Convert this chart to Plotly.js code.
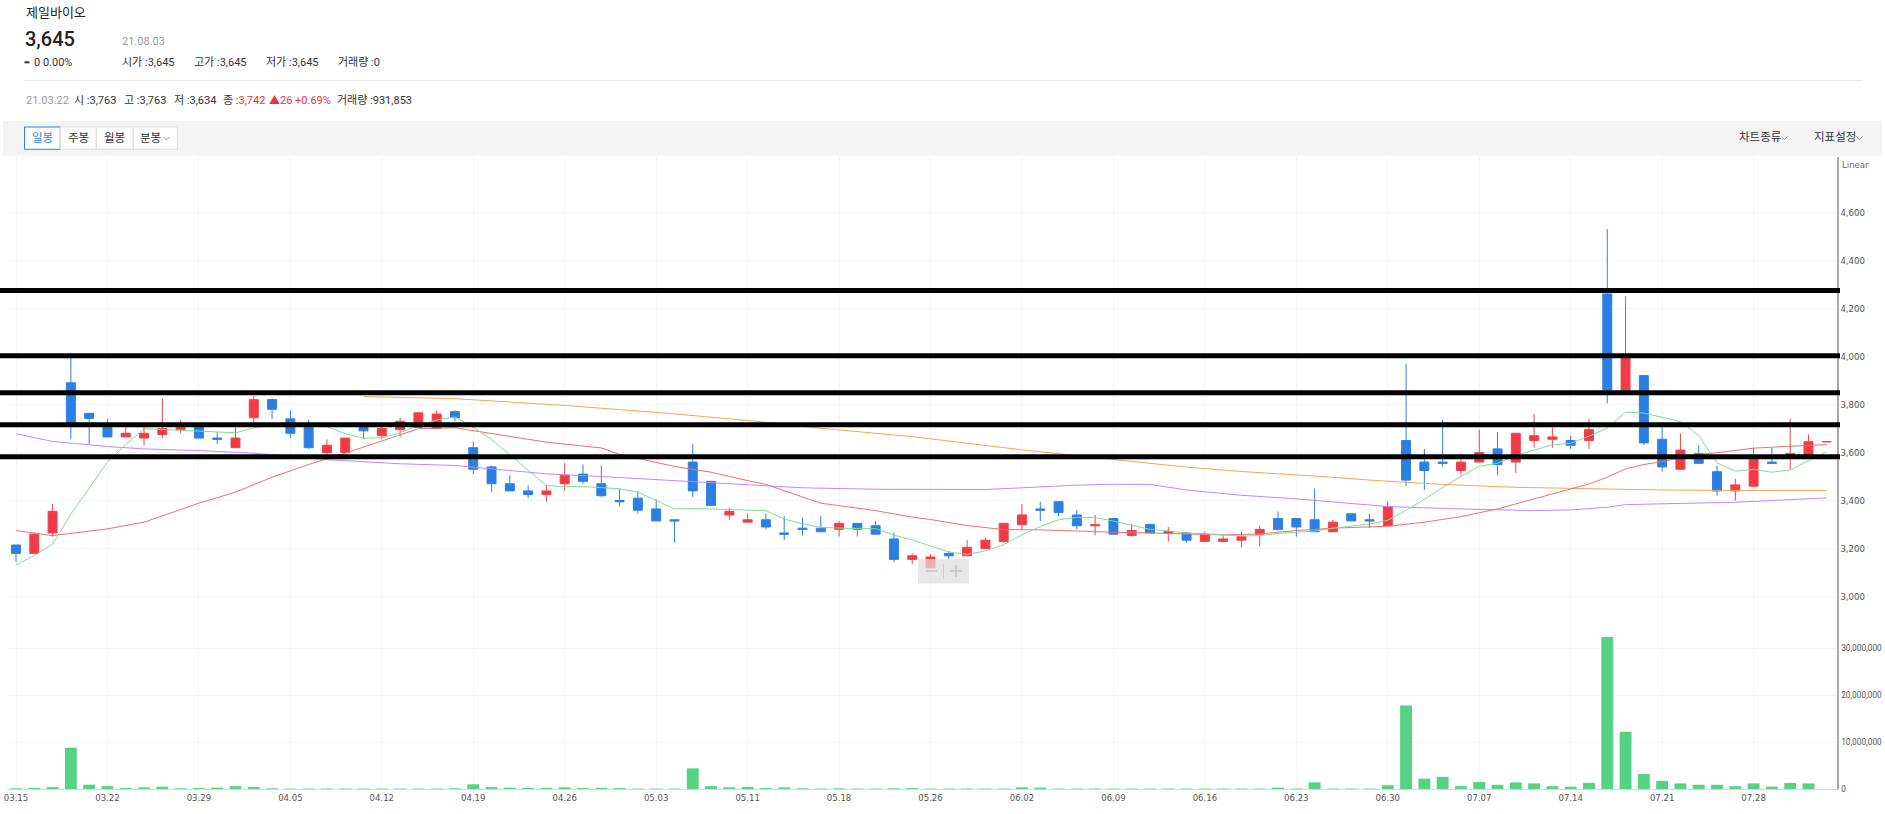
<!DOCTYPE html>
<html><head><meta charset="utf-8">
<script src="https://cdn.plot.ly/plotly-3.0.1.min.js"></script>
<style>html,body{margin:0;padding:0;background:#fff;overflow:hidden}#chart{width:1885px;height:814px}</style>
</head><body><div id="chart"></div>
<script>
// ---------- data ----------
const dates = ['03.15','03.16','03.17','03.18','03.19','03.22','03.23','03.24','03.25','03.26','03.29','03.30','03.31',
'04.01','04.02','04.05','04.06','04.07','04.08','04.09','04.12','04.13','04.14','04.15','04.16','04.19','04.20','04.21','04.22','04.23','04.26','04.27','04.28','04.29','04.30',
'05.03','05.04','05.06','05.07','05.10','05.11','05.12','05.13','05.14','05.17','05.18','05.20','05.21','05.24','05.25','05.26','05.27','05.28','05.31',
'06.01','06.02','06.03','06.04','06.07','06.08','06.09','06.10','06.11','06.14','06.15','06.16','06.17','06.18','06.21','06.22','06.23','06.24','06.25','06.28','06.29','06.30',
'07.01','07.02','07.05','07.06','07.07','07.08','07.09','07.12','07.13','07.14','07.15','07.16','07.19','07.20','07.21','07.22','07.23','07.26','07.27','07.28','07.29','07.30',
'08.02','08.03'];
const tickLabels = ['03.15','03.22','03.29','04.05','04.12','04.19','04.26','05.03','05.11','05.18','05.26','06.02','06.09','06.16','06.23','06.30','07.07','07.14','07.21','07.28'];

const open  = [3215,3180,3265,3890,3763,3705,3665,3660,3675,3695,3720,3660,3620,3745,3820,3740,3705,3600,3600,3720,3670,3695,3705,3700,3770,
               3620,3540,3470,3440,3425,3470,3510,3470,3400,3410,3365,3320,3560,3480,3340,3310,3320,3265,3285,3285,3280,3305,3295,3240,3155,
               3120,3180,3170,3200,3230,3300,3365,3395,3340,3295,3325,3255,3300,3265,3265,3230,3230,3235,3260,3325,3325,3320,3270,3345,3320,
               3295,3650,3560,3560,3525,3560,3615,3560,3650,3655,3650,3650,4260,3860,3920,3655,3530,3595,3520,3440,3460,3560,3590,3590,3645];
const high  = [3215,3265,3385,4015,3763,3740,3705,3705,3825,3735,3720,3685,3705,3835,3825,3775,3735,3655,3660,3720,3715,3745,3765,3775,3775,
               3645,3545,3505,3465,3465,3555,3550,3545,3450,3440,3405,3320,3635,3480,3370,3345,3345,3335,3330,3335,3315,3305,3315,3265,3180,
               3175,3190,3235,3245,3305,3385,3395,3395,3360,3340,3325,3305,3305,3290,3270,3270,3255,3270,3295,3355,3325,3450,3320,3345,3345,
               3395,3970,3615,3735,3595,3695,3685,3680,3760,3705,3670,3740,4530,4250,3920,3705,3680,3630,3545,3490,3620,3620,3740,3675,3645];
const low   = [3145,3180,3250,3655,3634,3665,3665,3630,3660,3680,3660,3635,3620,3725,3740,3660,3615,3590,3600,3655,3655,3665,3705,3700,3730,
               3510,3435,3440,3410,3395,3440,3470,3415,3375,3345,3315,3225,3415,3380,3320,3310,3280,3235,3255,3270,3250,3250,3260,3145,3135,
               3120,3155,3170,3200,3225,3280,3315,3335,3280,3255,3260,3250,3265,3230,3225,3230,3225,3205,3210,3275,3250,3270,3270,3315,3285,
               3295,3460,3445,3540,3505,3560,3505,3515,3620,3620,3615,3615,3805,3860,3630,3520,3530,3555,3420,3400,3455,3555,3530,3590,3645];
const close = [3180,3260,3355,3716,3742,3665,3680,3680,3700,3705,3660,3655,3660,3820,3780,3680,3620,3630,3660,3690,3700,3730,3765,3760,3745,
               3530,3470,3440,3425,3440,3505,3480,3420,3395,3360,3315,3315,3440,3380,3355,3320,3290,3260,3280,3270,3305,3280,3260,3155,3170,
               3165,3170,3205,3235,3305,3340,3360,3350,3295,3300,3260,3275,3265,3270,3235,3260,3240,3250,3280,3280,3290,3270,3310,3315,3315,
               3375,3485,3525,3555,3560,3600,3550,3680,3670,3665,3630,3695,3860,3995,3640,3540,3610,3555,3440,3465,3575,3555,3595,3645,3645];
const volume = [150000,250000,400000,8800000,931853,600000,250000,350000,500000,150000,200000,300000,600000,450000,150000,100000,100000,100000,100000,100000,
                100000,100000,100000,100000,150000,1000000,400000,300000,250000,250000,350000,200000,250000,200000,100000,100000,100000,4400000,600000,350000,
                450000,200000,350000,150000,100000,150000,100000,100000,150000,200000,100000,100000,100000,100000,100000,350000,300000,100000,100000,100000,
                100000,100000,100000,100000,100000,100000,100000,100000,100000,300000,100000,1400000,100000,100000,100000,800000,17800000,2200000,2600000,600000,
                1500000,900000,1400000,1200000,600000,500000,1300000,32400000,12200000,3200000,1700000,1200000,900000,900000,600000,1200000,500000,1300000,1200000,0];

// moving averages
const ma5 = [3133,3171,3219,3344,3451,3560,3633,3699,3696,3692,3688,3683,3682,3703,3713,3720,3715,3708,3678,3660,3661,3682,3713,3735,3748,
             3705,3654,3590,3522,3462,3458,3458,3454,3449,3435,3400,3365,3367,3364,3362,3361,3358,3323,3303,3288,3284,3283,3283,3256,3236,
             3210,3186,3176,3190,3217,3257,3292,3320,3330,3330,3314,3298,3280,3274,3264,3262,3256,3252,3254,3263,3268,3273,3285,3294,3302,
             3318,3359,3405,3455,3500,3543,3555,3588,3610,3632,3638,3668,3702,3768,3764,3746,3729,3670,3557,3522,3530,3518,3527,3566,3602];
const ma20Idx = [0,2,5,7,10,12,14,16,18,20,22,24,26,29,32,33,36,38,40,41,44,45,47,49,50,52,54,56,58,60,62,64,66,68,70,72,74,75,77,79,81,83,85,86,87,88,89,90,91,92,93,95,97,99];
const ma20    = [3275,3254,3282,3310,3389,3435,3497,3550,3597,3647,3699,3703,3678,3643,3619,3592,3542,3518,3483,3467,3389,3379,3358,3331,3321,3296,3279,3278,3272,3268,3265,3261,3257,3261,3275,3285,3291,3293,3310,3333,3365,3407,3449,3469,3497,3532,3550,3562,3578,3592,3599,3618,3626,3633];
const ma60Idx = [0,2,5,7,10,13,15,17,18,21,24,29,32,35,37,40,43,47,49,51,53,55,58,60,61,62,64,67,70,72,74,75,79,83,85,87,88,90,92,94,96,99];
const ma60    = [3678,3646,3625,3615,3608,3597,3585,3570,3566,3553,3546,3511,3500,3487,3479,3467,3453,3447,3446,3446,3446,3453,3464,3468,3468,3467,3444,3422,3407,3393,3382,3375,3365,3358,3361,3372,3383,3386,3389,3393,3400,3411];
const ma120Idx = [19,24,30,33,36,39,41,43,45,47,49,55,58,60,62,64,67,70,72,74,78,82,86,90,94,99];
const ma120    = [3833,3824,3796,3779,3761,3740,3726,3708,3694,3681,3666,3611,3587,3569,3553,3539,3521,3507,3497,3485,3467,3455,3449,3444,3442,3442];
const levels = [4274, 4003, 3849, 3715, 3582];

// ---------- layout helpers ----------
const W = 1885, H = 814, ML = 7, MR = 48, MT = 157, MB = 25;
const PW = W - ML - MR, PH = H - MT - MB;
const px = x => (x - ML) / PW;
const py = y => (H - MB - y) / PH;
const splitY = py(600);
const KFONT = 'Roboto, "Noto Sans CJK KR", "Noto Sans", sans-serif';
const NFONT = 'Roboto, "Noto Sans", sans-serif';
const AXFONT = '"Liberation Sans Narrow", "Arial Narrow", "DejaVu Sans Condensed", Roboto, sans-serif';

const annotations = [];
function txt(x, y, text, size, color, opts) {
  annotations.push(Object.assign({xref:'paper', yref:'paper', x:px(x), y:py(y), text:text, showarrow:false,
    xanchor:'left', yanchor:'middle', font:{family:KFONT, size:size, color:color}}, opts || {}));
}
const shapes = [];
function rect(x0, y0, x1, y1, fill, lineColor, layer) {
  shapes.push({type:'rect', xref:'paper', yref:'paper', x0:px(x0), x1:px(x1), y0:py(y1), y1:py(y0),
    fillcolor:fill, line:{color:lineColor || 'rgba(0,0,0,0)', width: lineColor ? 1 : 0}, layer: layer || 'below'});
}
function seg(x0, y0, x1, y1, color, w) {
  shapes.push({type:'line', xref:'paper', yref:'paper', x0:px(x0), x1:px(x1), y0:py(y0), y1:py(y1), line:{color:color, width:w||1}, layer:'above'});
}
function chevron(cx, cy, color) {
  shapes.push({type:'path', xref:'paper', yref:'paper',
    path:`M${px(cx-3)},${py(cy-1.5)} L${px(cx)},${py(cy+1.5)} L${px(cx+3)},${py(cy-1.5)}`,
    line:{color:color, width:1}, layer:'above'});
}

// header
txt(24, 13, '제일바이오', 13, '#222');
txt(23, 39, '3,645', 20, '#222', {font:{family:NFONT, size:20, color:'#222', weight:500}});
txt(120, 42, '21.08.03', 11, '#9a9a9a', {font:{family:NFONT, size:11, color:'#9a9a9a'}});
rect(24.5, 61.3, 29.5, 63.3, '#333', null, 'above');
txt(32, 62.5, '0 0.00%', 11, '#333', {font:{family:NFONT, size:11, color:'#333'}});
txt(120, 62.5, '시가 :3,645', 11, '#333');
txt(192, 62.5, '고가 :3,645', 11, '#333');
txt(264, 62.5, '저가 :3,645', 11, '#333');
txt(336, 62.5, '거래량 :0', 11, '#333');
seg(24, 80.5, 1863, 80.5, '#e6e6e6', 1);
txt(24, 101, '21.03.22', 11, '#9a9a9a', {font:{family:NFONT, size:11, color:'#9a9a9a'}});
txt(72, 101, '시 :3,763', 11, '#333');
txt(121.5, 101, '고 :3,763', 11, '#333');
txt(171.5, 101, '저 :3,634', 11, '#333');
txt(221, 101, '종 :<span style="color:#f0313f">3,742</span>', 11, '#333');
txt(267, 101, '▲26 +0.69%', 11, '#f0313f');
txt(335, 101, '거래량 :931,853', 11, '#333');

// toolbar
rect(3, 121, 1882, 155.7, '#f4f4f4', null, 'below');
rect(24.5, 127, 60.3, 149.3, '#ffffff', '#2f7fe4', 'below');
rect(60.3, 127, 96.3, 149.3, '#ffffff', '#dddddd', 'below');
rect(96.3, 127, 133.3, 149.3, '#ffffff', '#dddddd', 'below');
rect(133.3, 127, 177.3, 149.3, '#ffffff', '#dddddd', 'below');
txt(42.4, 138.2, '일봉', 11.5, '#2f7fe4', {xanchor:'center'});
txt(78.3, 138.2, '주봉', 11.5, '#333', {xanchor:'center'});
txt(114.8, 138.2, '월봉', 11.5, '#333', {xanchor:'center'});
txt(150.5, 138.2, '분봉', 11.5, '#333', {xanchor:'center'});
chevron(166.5, 138.5, '#999');
txt(1737, 137.5, '차트종류', 11.5, '#333');
chevron(1784.5, 138, '#999');
txt(1812, 137.5, '지표설정', 11.5, '#333');
chevron(1859.5, 138, '#999');
txt(1840, 165, 'Linear', 9, '#666', {font:{family:AXFONT, size:9.5, color:'#666'}});

// support / resistance lines
levels.forEach(v => shapes.push({type:'line', xref:'paper', yref:'y', x0:px(0), x1:px(1840), y0:v, y1:v,
  line:{color:'#000', width:5}, layer:'above'}));

// zoom control overlay
rect(918, 559, 969, 583.5, 'rgba(222,222,222,0.72)', null, 'above');
seg(943.5, 564, 943.5, 578.5, 'rgba(205,205,205,1)', 1);
seg(926, 571, 937, 571, '#c4c4c4', 1.6);
seg(950, 571, 962, 571, '#c4c4c4', 1.6);
seg(956, 565, 956, 577, '#c4c4c4', 1.6);

// ---------- traces ----------
const traces = [
  {type:'bar', x:dates, y:volume, xaxis:'x', yaxis:'y2', marker:{color:'#55d283', line:{width:0}}, hoverinfo:'skip'},
  {type:'scatter', mode:'lines', x:ma120Idx.map(i=>dates[i]), y:ma120, line:{color:'#f5a65a', width:1}, hoverinfo:'skip'},
  {type:'scatter', mode:'lines', x:ma60Idx.map(i=>dates[i]), y:ma60, line:{color:'#c486f4', width:1}, hoverinfo:'skip'},
  {type:'scatter', mode:'lines', x:ma20Idx.map(i=>dates[i]), y:ma20, line:{color:'#ef7070', width:1}, hoverinfo:'skip'},
  {type:'scatter', mode:'lines', x:dates, y:ma5, line:{color:'#80dd94', width:1}, hoverinfo:'skip'},
  {type:'candlestick', x:dates, open:open, high:high, low:low, close:close, xaxis:'x', yaxis:'y',
   increasing:{line:{color:'#f2404c', width:1}, fillcolor:'#f23a47'},
   decreasing:{line:{color:'#2d80e3', width:1}, fillcolor:'#2a7fe2'},
   whiskerwidth:0, hoverinfo:'skip'}
];

const layout = {
  width:W, height:H, margin:{l:ML, r:MR, t:MT, b:MB, pad:0},
  paper_bgcolor:'#fff', plot_bgcolor:'#fff', showlegend:false, bargap:0.35,
  font:{family:AXFONT, size:9.5, color:'#666'},
  xaxis:{type:'category', range:[-0.492, 99.56], anchor:'y2', tickvals:tickLabels, ticktext:tickLabels,
    showgrid:true, gridcolor:'#f3f4f6', gridwidth:1, showline:true, linecolor:'#d4dae2', linewidth:1,
    ticks:'', tickfont:{family:AXFONT, size:9.5, color:'#555'}, rangeslider:{visible:false}, fixedrange:true, zeroline:false},
  yaxis:{domain:[splitY, 1], range:[2986, 4830], side:'right', anchor:'x',
    tickvals:[3000,3200,3400,3600,3800,4000,4200,4400,4600], tickformat:',d',
    showgrid:true, gridcolor:'#f3f4f6', showline:true, linecolor:'#a8a8a8', linewidth:1.5, zeroline:false,
    ticks:'', tickfont:{family:AXFONT, size:9.5, color:'#555'}},
  yaxis2:{domain:[0, splitY], range:[0, 40.3e6], side:'right', anchor:'x',
    tickvals:[0,10000000,20000000,30000000], tickformat:',d',
    showgrid:true, gridcolor:'#f3f4f6', showline:true, linecolor:'#a8a8a8', linewidth:1.5, zeroline:false,
    ticks:'', ticklabelstandoff:1, tickfont:{family:'"Liberation Sans Narrow", "Arial Narrow", Roboto, sans-serif', size:8.3, color:'#555'}},
  shapes:shapes, annotations:annotations
};

Plotly.newPlot('chart', traces, layout, {displayModeBar:false, staticPlot:true});
</script></body></html>
